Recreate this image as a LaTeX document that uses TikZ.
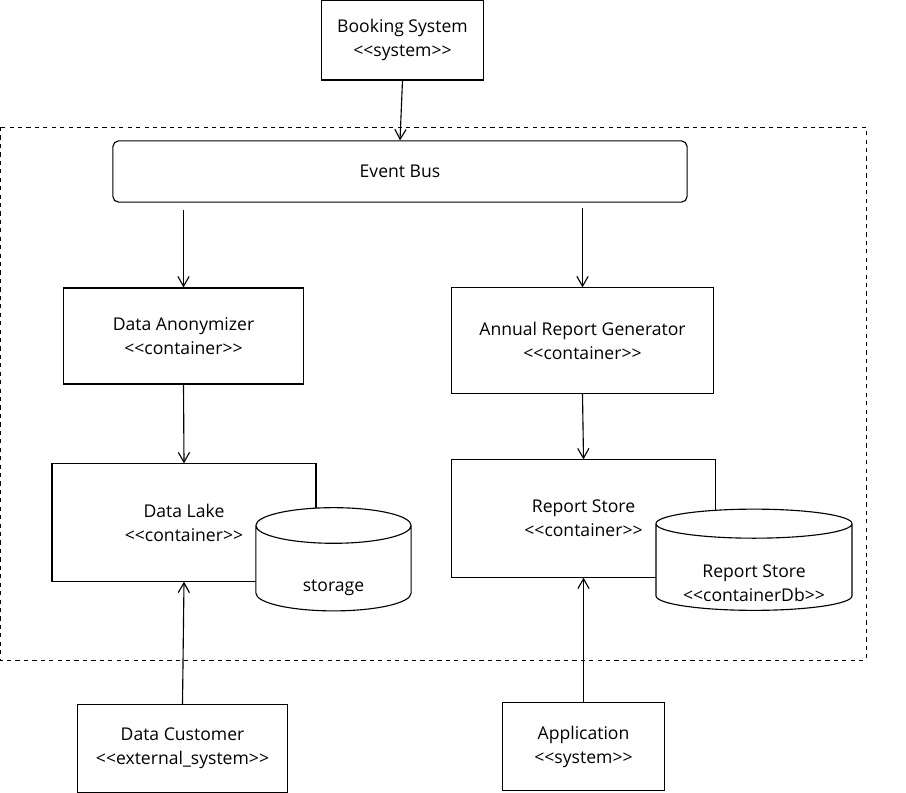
\documentclass[tikz,border=0pt]{standalone}
\usepackage{fontspec}
\setmainfont{Open Sans}
\usetikzlibrary{arrows.meta,shapes.geometric}
\newcommand{\stereo}[1]{<\kern0pt<#1>\kern0pt>}
\tikzstyle{block} = [rectangle, draw=black, fill=white, line width=0.8pt, align=center, font=\fontsize{12.5}{17}\selectfont]
\tikzstyle{bus} = [block, rounded corners=4pt]
\tikzstyle{store} = [cylinder, shape border rotate=90, draw=black, fill=white, line width=0.8pt, aspect=3.8]
\tikzstyle{label} = [align=center, font=\fontsize{12.5}{17}\selectfont]
\tikzstyle{arrow} = [line width=0.8pt, -{Straight Barb[length=7pt,width=8pt]}]

\begin{document}
\begin{tikzpicture}[x=0.025cm, y=-0.025cm]
		\useasboundingbox (0,0) rectangle (906,792);
		% boundary
		\draw[dashed, line width=0.6pt] (0,127) rectangle (866,660);

		\node (booking) [block, minimum width=4.03cm, minimum height=2cm] at (402.5,40) {Booking System\\\stereo{system}};
		\node (bus) [bus, minimum width=14.35cm, minimum height=1.53cm] at (400,171.5) {Event Bus};
		\node (anon) [block, minimum width=5.98cm, minimum height=2.4cm] at (183.5,336) {Data Anonymizer\\\stereo{container}};
		\node (annual) [block, minimum width=6.53cm, minimum height=2.63cm] at (582.5,340.5) {Annual Report Generator\\\stereo{container}};
		\node (lake) [block, minimum width=6.6cm, minimum height=2.93cm] at (184,522.5) {Data Lake\\\stereo{container}};
		\node (report) [block, minimum width=6.58cm, minimum height=2.93cm] at (583.5,518.5) {Report Store\\\stereo{container}};
		\node (lakedb) [store, minimum width=3.88cm, minimum height=2.58cm] at (333.5,571.5) {};
		\node (lakedbtext) [label] at (333.5,588) {storage};
		\node (storedb) [store, aspect=3.1, minimum width=4.9cm, minimum height=2.53cm] at (754,569.5) {};
		\node (storedbtext) [label] at (754,583) {Report Store\\\stereo{containerDb}};
		\node (customer) [block, minimum width=5.23cm, minimum height=2.18cm] at (182.5,748.5) {Data Customer\\\stereo{external\_system}};
		\node (app) [block, minimum width=4.03cm, minimum height=2.18cm] at (583.5,746.5) {Application\\\stereo{system}};

		\draw [arrow] (booking.south) -- (bus.north);
		\draw [arrow, shorten <=5pt] (bus.south -| anon.north) -- (anon.north);
		\draw [arrow, shorten <=4pt] (bus.south -| annual.north) -- (annual.north);
		\draw [arrow] (anon.south) -- (lake.north);
		\draw [arrow] (annual.south) -- (report.north);
		\draw [arrow] (customer.north) -- (lake.south);
		\draw [arrow] (app.north) -- (report.south);
	\end{tikzpicture}
\end{document}
